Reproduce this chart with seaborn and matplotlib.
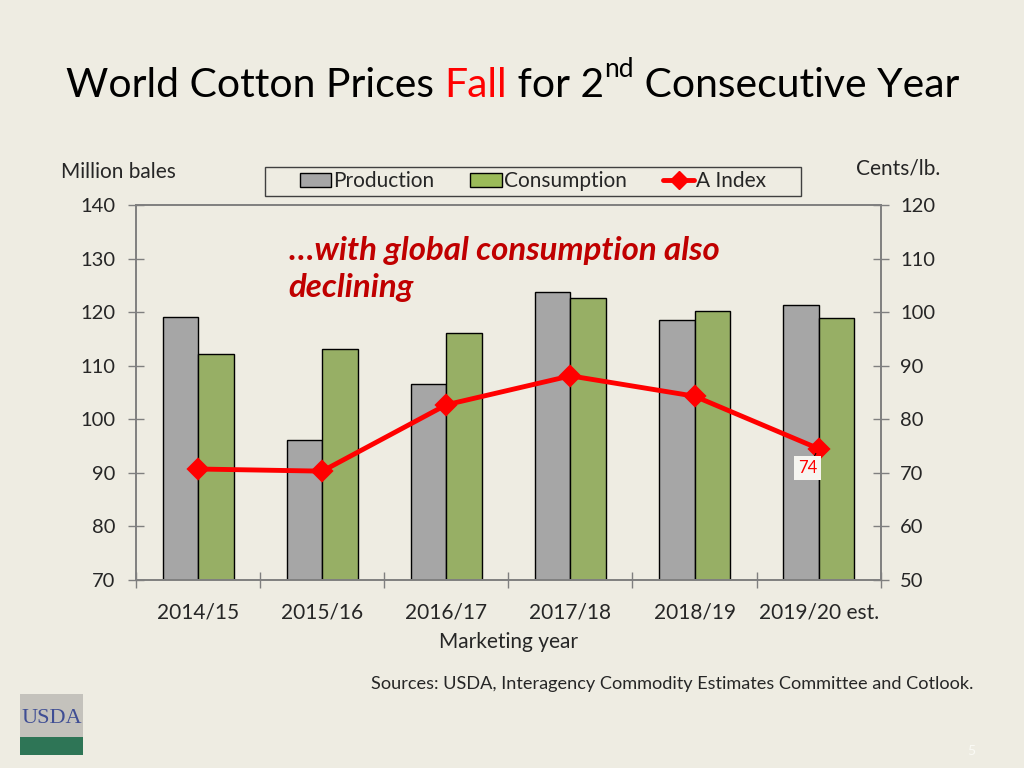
import numpy as np
import pandas as pd
import matplotlib
matplotlib.use("Agg")
import matplotlib.pyplot as plt
import seaborn as sns
from matplotlib.patches import Patch, Rectangle
from matplotlib.lines import Line2D

years = ["2014/15", "2015/16", "2016/17", "2017/18", "2018/19", "2019/20 est."]
production = [119.1, 96.1, 106.6, 123.8, 118.5, 121.3]
consumption = [112.2, 113.1, 116.1, 122.6, 120.2, 118.9]
a_index = [70.7, 70.3, 82.7, 88.1, 84.3, 74.5]

bg = "#EEECE2"
grey = "#A6A6A6"
green = "#9BBB59"
red = "#FF0000"
dark_red = "#C00000"
spine_col = "#7F7F7F"

sns.set_theme(style="white")
plt.rcParams["font.family"] = ["Lato", "DejaVu Sans"]

df = pd.DataFrame({
    "Year": years * 2,
    "Value": production + consumption,
    "Series": ["Production"] * 6 + ["Consumption"] * 6,
})

fig = plt.figure(figsize=(10.24, 7.68), dpi=100, facecolor=bg)
ax = fig.add_axes([0.133, 0.245, 0.727, 0.488], facecolor=bg)

sns.barplot(data=df, x="Year", y="Value", hue="Series",
            palette=[grey, green], width=0.57, gap=0,
            edgecolor="black", linewidth=1, ax=ax, legend=False)
ax.set_ylim(70, 140)
ax.set_xlim(-0.5, 5.5)
ax.set_yticks(np.arange(70, 141, 10))
ax.set_xlabel("Marketing year", fontsize=15, labelpad=7)
ax.set_ylabel("")

ax2 = ax.twinx()
sns.pointplot(x=years, y=a_index, ax=ax2, color=red, markers="D",
              markersize=9, linewidth=3.5)
ax2.set_ylim(50, 120)
ax2.set_yticks(np.arange(50, 121, 10))
ax2.set_xlim(-0.5, 5.5)
ax2.set_ylabel("")

for a in (ax, ax2):
    for s in a.spines.values():
        s.set_color(spine_col)
        s.set_linewidth(1.2)
ax.tick_params(axis="y", direction="inout", length=12, width=1, color=spine_col,
               labelsize=14.5, pad=9, left=True)
ax2.tick_params(axis="y", direction="inout", length=12, width=1, color=spine_col,
                labelsize=14.5, pad=8, right=True)
ax.set_xticks(np.arange(-0.5, 6, 1), minor=True)
ax.tick_params(axis="x", which="minor", direction="inout", length=12, width=1,
               color=spine_col, bottom=True)
ax.tick_params(axis="x", which="major", length=0, labelsize=15, pad=16)

ax2.annotate("74", xy=(5, a_index[5]), xytext=(-8, -14), textcoords="offset points",
             ha="center", va="center", color=red, fontsize=12,
             bbox=dict(boxstyle="square,pad=0.25", fc="#F6F5F0", ec="none"),
             arrowprops=dict(arrowstyle="-", color="black", lw=0.8, shrinkA=0, shrinkB=4))

ax.text(0.205, 0.917, "\u2026with global consumption also\ndeclining", transform=ax.transAxes,
        fontsize=23.8, fontweight="bold", fontstyle="italic", color=dark_red,
        ha="left", va="top", linespacing=1.33)

# legend frame and entries
fig.add_artist(Rectangle((265 / 1024, 1 - 196 / 768), 536 / 1024, 29 / 768,
                         transform=fig.transFigure, fc=bg, ec="#404040", lw=1))
handles = [Patch(fc=grey, ec="black", lw=1), Patch(fc=green, ec="black", lw=1),
           Line2D([], [], color=red, lw=3.5, marker="D", markersize=9)]
fig.legend(handles, ["Production", "Consumption", "A Index"], ncol=3,
           loc="center", bbox_to_anchor=(0.5205, 0.7637), fontsize=15,
           frameon=False, handlelength=1.5, handletextpad=0.1,
           columnspacing=1.75, borderpad=0.15)

fig.canvas.draw()
renderer = fig.canvas.get_renderer()
title_parts = [("World Cotton Prices ", "black"), ("Fall", red), (" for 2", "black")]
x = 0.0645
y = 0.889
for txt, col in title_parts:
    t = fig.text(x, y, txt, fontsize=29.4, color=col, ha="left", va="center")
    x += t.get_window_extent(renderer).width / fig.bbox.width
sup = fig.text(x, y + 0.021, "nd", fontsize=19, color="black", ha="left", va="center")
x += sup.get_window_extent(renderer).width / fig.bbox.width
fig.text(x, y, " Consecutive Year", fontsize=29.4, color="black", ha="left", va="center")

fig.text(0.06, 0.776, "Million bales", fontsize=15, ha="left", va="center")
fig.text(0.877, 0.780, "Cents/lb.", fontsize=15, ha="center", va="center")
fig.text(0.951, 0.110, "Sources: USDA, Interagency Commodity Estimates Committee and Cotlook.",
         fontsize=13.1, ha="right", va="center")
fig.text(0.949, 0.022, "5", fontsize=10, color="#FAFAF5", ha="center", va="center")

# USDA logo
logo = fig.add_axes([0.020, 0.017, 0.061, 0.080])
logo.set_xlim(0, 1)
logo.set_ylim(0, 1)
logo.axis("off")
logo.add_patch(Rectangle((0, 0), 1, 1, fc="#C4C2BC", ec="none"))
logo.add_patch(Rectangle((0, 0), 1, 0.3, fc="#2E7556", ec="none"))
logo.text(0.5, 0.6, "USDA", fontsize=16, color="#3F4E94", ha="center", va="center",
          family=["Liberation Serif", "DejaVu Serif"])

fig.savefig("out.png", dpi=100, facecolor=bg)
